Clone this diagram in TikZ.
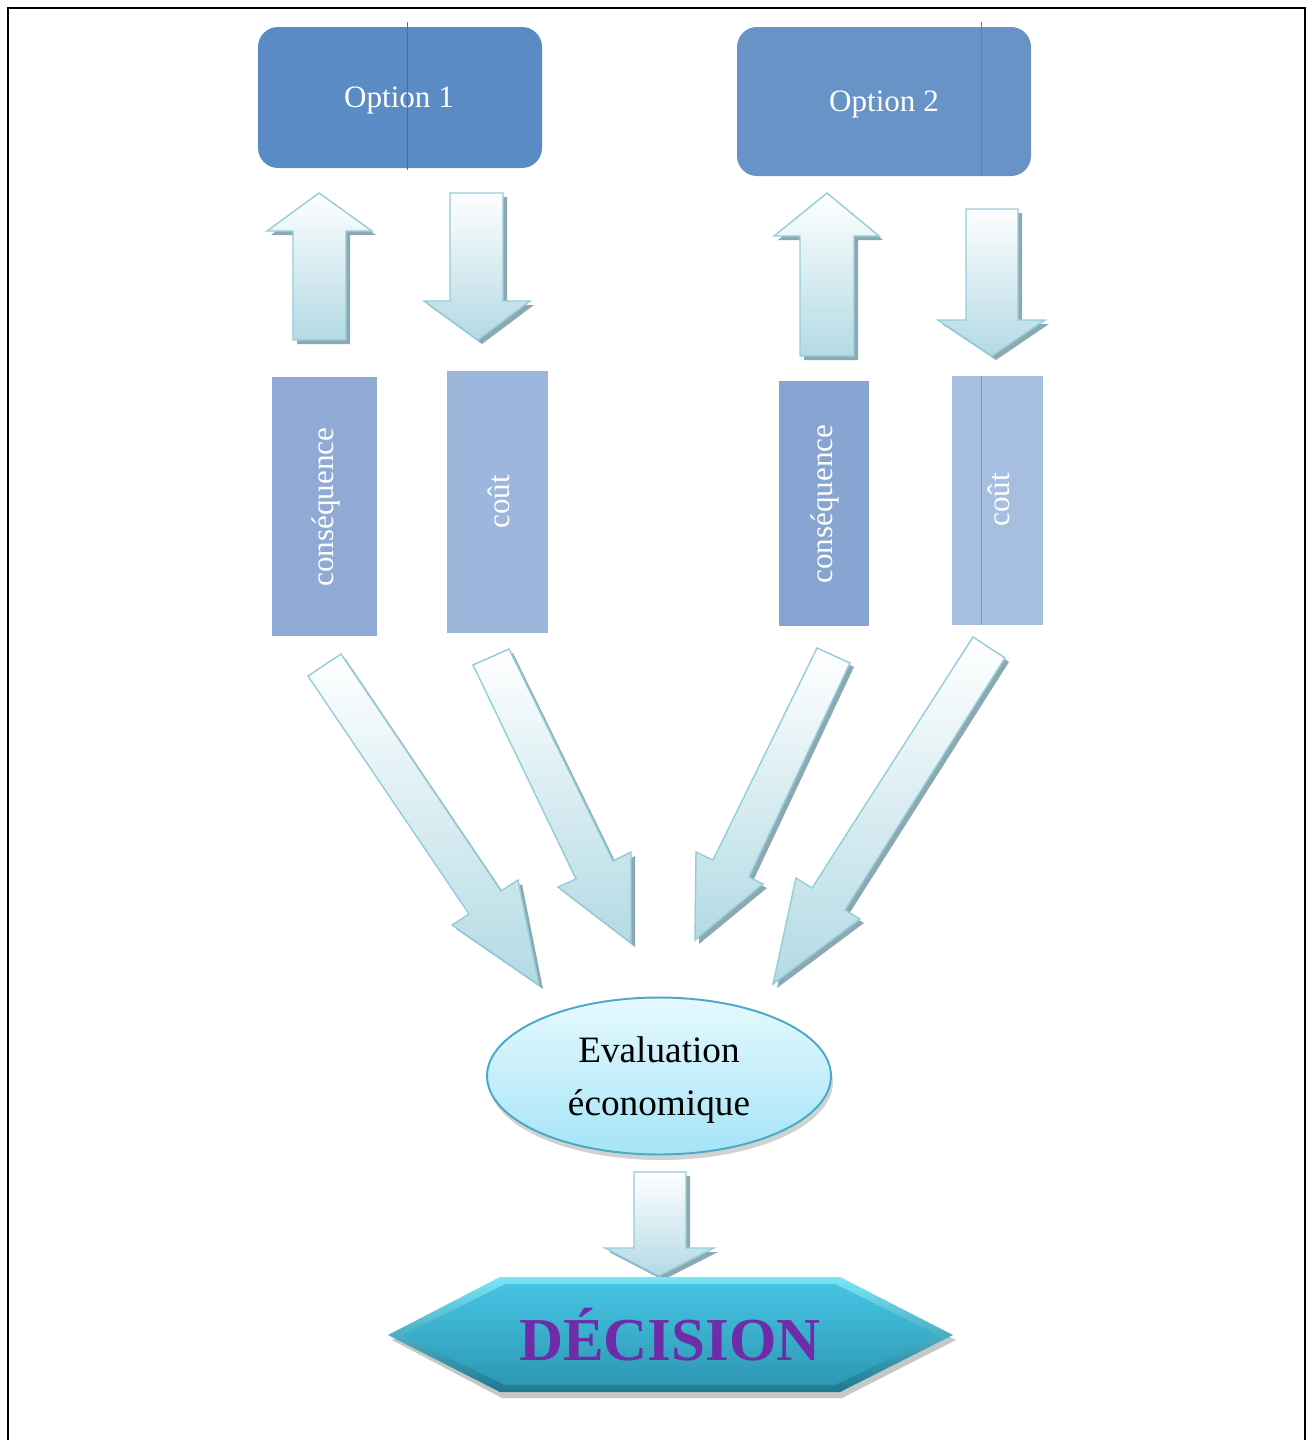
\documentclass[tikz,border=0pt]{standalone}
\usepackage{fontspec}
\setmainfont{Liberation Serif}
\usetikzlibrary{shapes.geometric,fit}
\definecolor{optA}{HTML}{5B8BC5}
\definecolor{optB}{HTML}{6793C7}
\definecolor{barA}{HTML}{8EAAD5}
\definecolor{barB}{HTML}{9CB6DC}
\definecolor{barC}{HTML}{87A5D2}
\definecolor{barD}{HTML}{A6BFE0}
\definecolor{arrowline}{HTML}{93CDDA}
\definecolor{arrowblue}{HTML}{B3DAE4}
\definecolor{shadowgray}{HTML}{8CA9B1}
\definecolor{ellline}{HTML}{4AA8C8}
\definecolor{elltop}{HTML}{E6F9FE}
\definecolor{ellbot}{HTML}{A4E4F7}
\definecolor{hexedgetop}{HTML}{7AE6F8}
\definecolor{hexedgebot}{HTML}{1E7890}
\definecolor{hextop}{HTML}{45C4E3}
\definecolor{hexbot}{HTML}{2D98B3}
\definecolor{decpurple}{HTML}{6E2CA8}
\tikzset{
  blockarrow/.style={draw=arrowline, line width=0.8pt, top color=white, bottom color=arrowblue, line join=miter},
  arrowshadow/.style={fill=shadowgray},
  optbox/.style={draw=none, rounded corners=0.4cm, inner sep=0pt},
  opttext/.style={text=white, inner sep=0pt, font=\fontsize{17.7}{20}\selectfont},
  barbox/.style={draw=none, inner sep=0pt},
  bartext/.style={text=white, rotate=90, inner sep=0pt, font=\fontsize{17.7}{20}\selectfont},
  artline/.style={line width=0.3pt},
}
\newcommand\blockarr[1]{\fill[arrowshadow, shift={(4,4)}] #1 -- cycle; \path[blockarrow] #1 -- cycle;}
\begin{document}
\begin{tikzpicture}[x=0.02cm,y=-0.02cm]
\useasboundingbox (0,0) rectangle (1310,1440);
% frame
\draw[line width=1.2pt] (8,1440) -- (8,8) -- (1305,8) -- (1305,1440);

% option boxes
\node[optbox, fill=optA, fit={(258,27) (542,168)}] (opt1) {};
\node[opttext] (opt1t) at (399,101) {Option 1};
\node[optbox, fill=optB, fit={(737,27) (1031,176)}] (opt2) {};
\node[opttext] (opt2t) at (884,105) {Option 2};
\draw[artline, optA!80!black] (407,22) -- (407,170);
\draw[artline, optB!85!black] (981,22) -- (981,176);

% vertical block arrows
\blockarr{(319,193) -- (372,231) -- (346,231) -- (346,340) -- (293,340) -- (293,231) -- (267,231)}
\blockarr{(450,193) -- (503,193) -- (503,301) -- (530,301) -- (478,340) -- (424,301) -- (450,301)}
\blockarr{(827,193) -- (879,236) -- (854,236) -- (854,356) -- (800,356) -- (800,236) -- (774,236)}
\blockarr{(966,209) -- (1018,209) -- (1018,320) -- (1045,320) -- (992,356) -- (938,320) -- (966,320)}

% bars
\node[barbox, fill=barA, fit={(272,377) (377,636)}] (cons1) {};
\node[bartext] (cons1t) at (326,507) {conséquence};
\node[barbox, fill=barB, fit={(447,371) (548,633)}] (cout1) {};
\node[bartext] (cout1t) at (499,502) {coût};
\node[barbox, fill=barC, fit={(779,381) (869,626)}] (cons2) {};
\node[bartext] (cons2t) at (825,504) {conséquence};
\node[barbox, fill=barD, fit={(952,376) (1043,625)}] (cout2) {};
\draw[artline, barD!80!black] (981,376) -- (981,625);
\node[bartext] (cout2t) at (999,500) {coût};

% diagonal block arrows
\blockarr{(341,654) -- (501,891) -- (518,880) -- (539,985) -- (452,925) -- (469,914) -- (308,676)}
\blockarr{(509,649) -- (613,861) -- (631,852) -- (631,943) -- (558,887) -- (576,879) -- (473,665)}
\blockarr{(817,648) -- (850,663) -- (749,877) -- (763,884) -- (695,940) -- (696,852) -- (713,860)}
\blockarr{(973,637) -- (1005,658) -- (845,910) -- (860,919) -- (773,984) -- (796,878) -- (812,888)}

% evaluation ellipse
\fill[black, opacity=0.18] (661,1082) ellipse [x radius=172, y radius=78];
\node[ellipse, draw=ellline, line width=1.1pt, top color=elltop, bottom color=ellbot,
      minimum width=6.88cm, minimum height=3.14cm, inner sep=0pt] (eval) at (659,1076) {};
\node[align=center, inner sep=0pt, font=\fontsize{21.2}{30}\selectfont] (evalt) at (659,1080) {Evaluation\\économique};

% arrow to decision
\blockarr{(634,1172) -- (686,1172) -- (686,1248) -- (714,1248) -- (659,1276) -- (605,1248) -- (634,1248)}

% decision hexagon
\fill[black, opacity=0.22] (392,1340) -- (502,1283) -- (842,1283) -- (956,1340) -- (842,1398) -- (502,1398) -- cycle;
\path[top color=hexedgetop, bottom color=hexedgebot] (388,1335) -- (500,1277) -- (840,1277) -- (953,1335) -- (840,1392) -- (500,1392) -- cycle;
\path[top color=hextop, bottom color=hexbot] (403,1335) -- (505,1284) -- (835,1284) -- (938,1335) -- (835,1385) -- (505,1385) -- cycle;
\node[text=decpurple, font=\fontsize{34.7}{40}\bfseries\selectfont, inner sep=0pt] (dec) at (670,1335) {DÉCISION};
\end{tikzpicture}
\end{document}
